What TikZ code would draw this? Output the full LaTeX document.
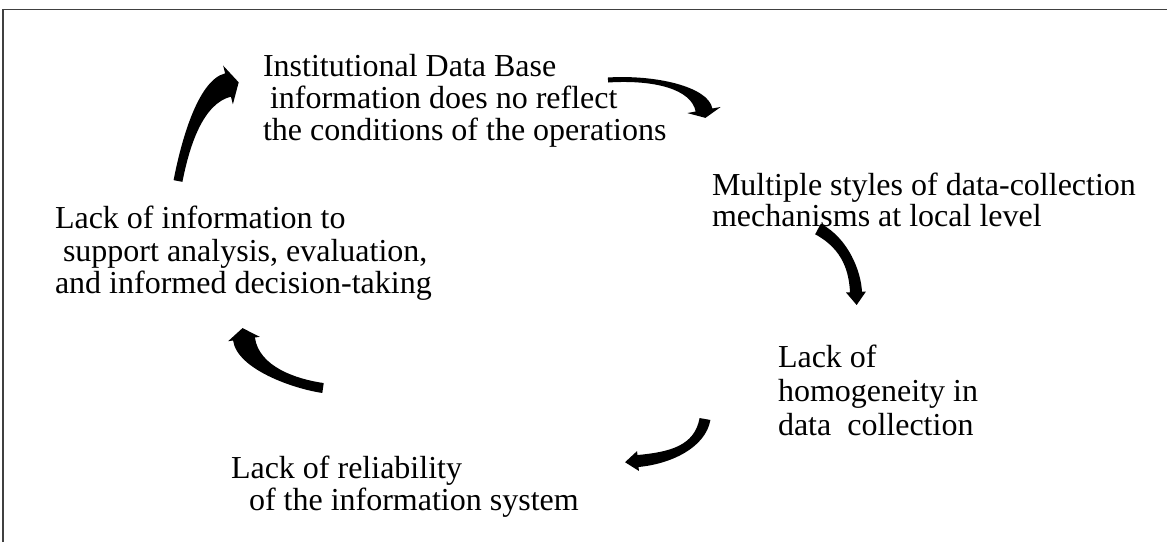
\documentclass[tikz,border=0pt]{standalone}
\usepackage{fontspec}
\setmainfont{Liberation Serif}
\usetikzlibrary{calc}

\tikzset{
  x=1pt, y=-1pt,
  lbl/.style={anchor=base west, inner sep=0pt, outer sep=0pt,
              font=\fontsize{32}{32}\selectfont},
  frameline/.style={draw=black!75, line width=1.5pt},
  blockarrow/.style={fill=black, draw=none}
}

% Tapered curved block arrow along the cubic curve #1 -> #4 (controls #2, #3).
% #5 half width at the tail, #6 half width at the head base,
% #7 half width of the head, #8 head length.
\newcommand\curvedblockarrow[8]{%
  \fill[blockarrow]
    ($(#1)!#5!90:(#2)$) .. controls ($(#2)!#5!-90:(#1)$) and ($(#3)!#6!90:(#4)$) .. ($(#4)!#6!-90:(#3)$)
    -- ($(#4)!#7!-90:(#3)$) -- ($(#4)!-#8!(#3)$) -- ($(#4)!#7!90:(#3)$)
    -- ($(#4)!#6!90:(#3)$) .. controls ($(#3)!#6!-90:(#4)$) and ($(#2)!#5!90:(#1)$) .. ($(#1)!#5!-90:(#2)$)
    -- cycle;
}

\begin{document}
\begin{tikzpicture}
\useasboundingbox (0,0) rectangle (1167,542);

% open frame: top and left edges only
\draw[frameline] (3,542) -- (3,9.5) -- (1167,9.5);

% statements of the cycle
\node[lbl] (t1a) at (263,76)  {Institutional Data Base};
\node[lbl] (t1b) at (270,108) {information does no reflect};
\node[lbl] (t1c) at (263,140) {the conditions of the operations};

\node[lbl] (t2a) at (712,195) {Multiple styles of data-collection};
\node[lbl] (t2b) at (712,226) {mechanisms at local level};

\node[lbl] (t3a) at (778,367) {Lack of};
\node[lbl] (t3b) at (778,401) {homogeneity in};
\node[lbl] (t3c) at (778,435) {data\ \ collection};

\node[lbl] (t4a) at (231,478) {Lack of reliability};
\node[lbl] (t4b) at (249,510) {of the information system};

\node[lbl] (t5a) at (55,228)  {Lack of information to};
\node[lbl] (t5b) at (63,261)  {support analysis, evaluation,};
\node[lbl] (t5c) at (55,293)  {and informed decision-taking};

% control points of the curved arrows
\coordinate (a1p0) at (178,181); \coordinate (a1p1) at (185,145);
\coordinate (a1p2) at (200,92);  \coordinate (a1p3) at (228,85);

\coordinate (a2p0) at (608,80);  \coordinate (a2p1) at (655,77);
\coordinate (a2p2) at (700,88);  \coordinate (a2p3) at (704,110);

\coordinate (a3p0) at (818,229); \coordinate (a3p1) at (846,244);
\coordinate (a3p2) at (855,272); \coordinate (a3p3) at (856,292);

\coordinate (a4p0) at (705,419); \coordinate (a4p1) at (700,447);
\coordinate (a4p2) at (670,458); \coordinate (a4p3) at (638,461);

\coordinate (a5p0) at (323,388); \coordinate (a5p1) at (295,384);
\coordinate (a5p2) at (248,368); \coordinate (a5p3) at (244,339);

\curvedblockarrow{a1p0}{a1p1}{a1p2}{a1p3}{4.5pt}{12pt}{20pt}{11pt}
\curvedblockarrow{a2p0}{a2p1}{a2p2}{a2p3}{2.5pt}{8.5pt}{17pt}{8pt}
\curvedblockarrow{a3p0}{a3p1}{a3p2}{a3p3}{6pt}{6pt}{10pt}{13pt}
\curvedblockarrow{a4p0}{a4p1}{a4p2}{a4p3}{5.5pt}{6pt}{10pt}{13pt}
\curvedblockarrow{a5p0}{a5p1}{a5p2}{a5p3}{5pt}{11pt}{16pt}{11pt}
\end{tikzpicture}
\end{document}
